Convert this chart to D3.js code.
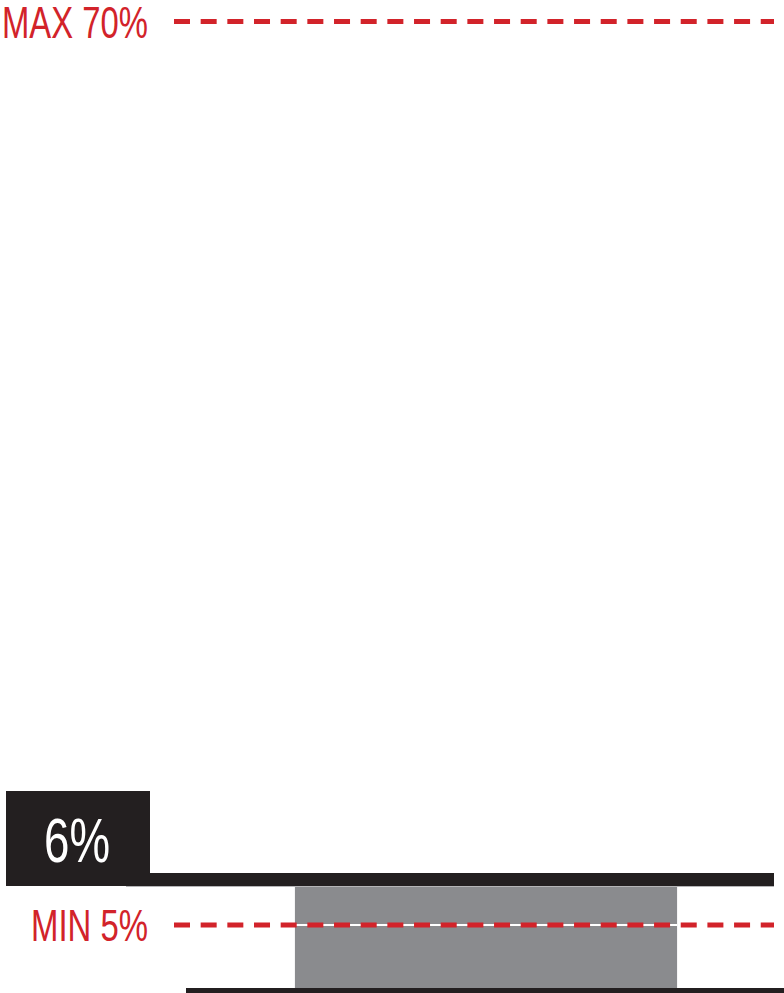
<!DOCTYPE html>
<html>
<head>
<meta charset="utf-8">
<script src="https://cdn.jsdelivr.net/npm/d3@7"></script>
<style>
  body { margin: 0; background: #fff; }
  svg { display: block; }
  text { font-family: "Liberation Sans Narrow", "Liberation Sans", sans-serif; }
</style>
</head>
<body>
<div id="chart"></div>
<script>
// data
const categories = ["current"];
const values = [6];
const limitNames = ["MAX", "MIN"];
const limitValues = [70, 5];
const valueLabels = ["6%"];

const W = 784, H = 993;
const red = "#d2232a", black = "#231f20", grey = "#8a8b8e";

const svg = d3.select("#chart").append("svg")
    .attr("width", W)
    .attr("height", H);

// the original graphic uses a broken (non-uniform) vertical scale
let y = d3.scaleLinear()
    .domain([0, 5, 6, 70])
    .range([988, 925, 886, 21.5]);

let x = d3.scaleBand()
    .domain(categories)
    .range([186, 786])
    .paddingInner(0)
    .paddingOuter(0.285);

let lineX0 = 174, lineX1 = 774;

// grey bar
svg.selectAll("rect.bar")
    .data(values)
    .enter().append("rect")
    .attr("class", "bar")
    .attr("x", (d, i) => x(categories[i]))
    .attr("y", d => y(d))
    .attr("width", x.bandwidth())
    .attr("height", d => y(0) - y(d))
    .attr("fill", grey);

// thin white line behind the min dashes inside the bar
svg.append("line")
    .attr("x1", x(categories[0]))
    .attr("x2", x(categories[0]) + x.bandwidth())
    .attr("y1", y(limitValues[1]))
    .attr("y2", y(limitValues[1]))
    .attr("stroke", "#fff")
    .attr("stroke-width", 2);

// baseline
svg.append("line")
    .attr("x1", 186)
    .attr("x2", W)
    .attr("y1", y(0) + 2.5)
    .attr("y2", y(0) + 2.5)
    .attr("stroke", black)
    .attr("stroke-width", 5);

// value marker: thick black line + label box
values.forEach((v, i) => {
    svg.append("line")
        .attr("x1", 126)
        .attr("x2", lineX1)
        .attr("y1", y(v) + 0.5)
        .attr("y2", y(v) + 0.5)
        .attr("stroke", "#b5b5b7")
        .attr("stroke-width", 1);

    svg.append("rect")
        .attr("x", 150)
        .attr("y", y(v) - 13)
        .attr("width", lineX1 - 150)
        .attr("height", 13)
        .attr("fill", black);

    svg.append("rect")
        .attr("x", 6)
        .attr("y", y(v) - 95)
        .attr("width", 144)
        .attr("height", 95)
        .attr("fill", black);

    svg.append("text")
        .attr("x", 77)
        .attr("y", y(v) - 24)
        .attr("text-anchor", "middle")
        .attr("fill", "#fff")
        .attr("font-size", 63)
        .attr("textLength", 66)
        .attr("lengthAdjust", "spacingAndGlyphs")
        .text(valueLabels[i]);
});

// limit lines
limitValues.forEach((v, i) => {
    svg.append("line")
        .attr("x1", lineX0)
        .attr("x2", lineX1)
        .attr("y1", y(v))
        .attr("y2", y(v))
        .attr("stroke", red)
        .attr("stroke-width", 5)
        .attr("stroke-dasharray", "16 10.67");

    svg.append("text")
        .attr("x", 148)
        .attr("y", y(v) + 16)
        .attr("text-anchor", "end")
        .attr("fill", red)
        .attr("font-size", 44)
        .attr("textLength", i === 0 ? 146 : 117)
        .attr("lengthAdjust", "spacingAndGlyphs")
        .text(limitNames[i] + " " + v + "%");
});
</script>
</body>
</html>
